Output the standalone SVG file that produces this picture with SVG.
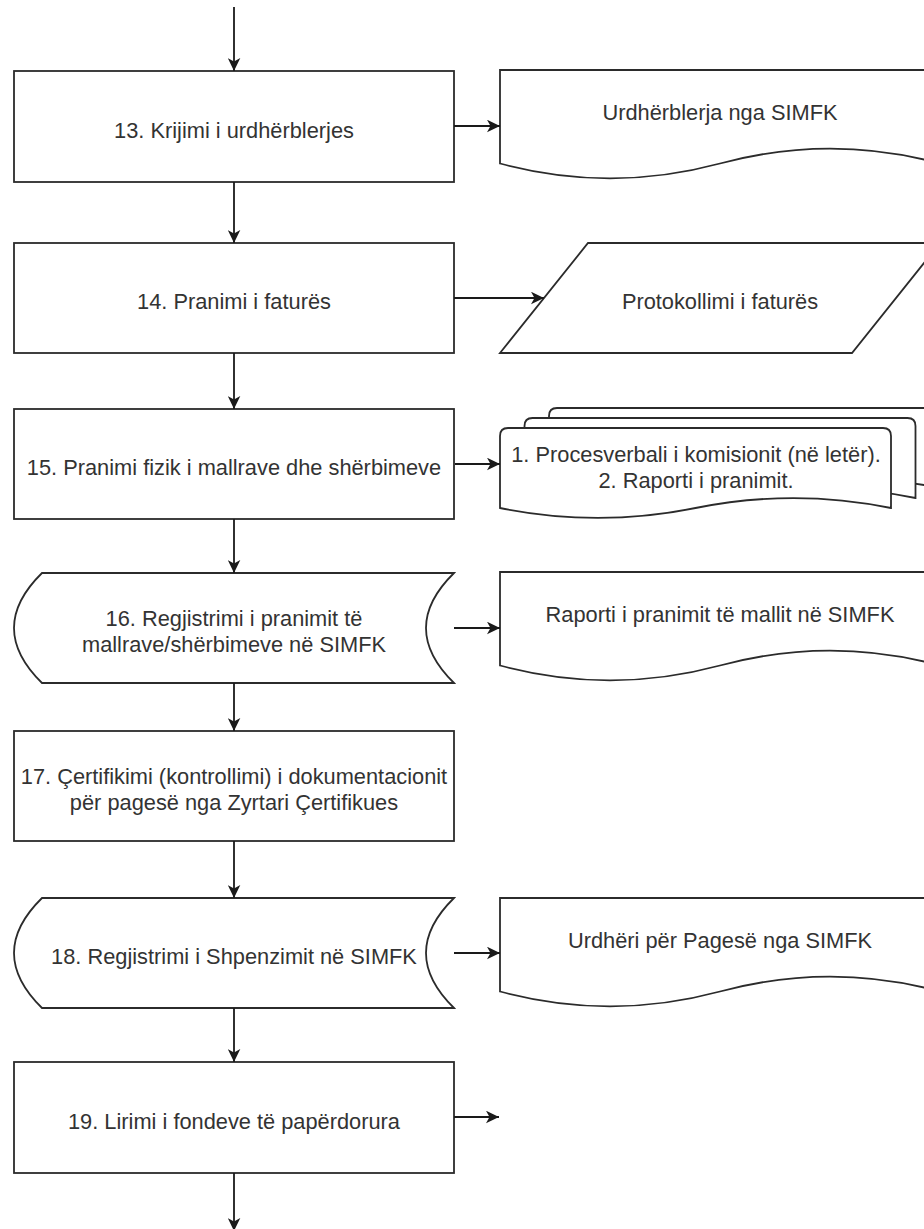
<svg xmlns="http://www.w3.org/2000/svg" width="924" height="1229" viewBox="0 0 924 1229">
  <defs>
    <style>
      .shape { fill: #ffffff; stroke: #2b2b2b; stroke-width: 1.8; stroke-linejoin: miter; }
      .edge { fill: none; stroke: #1a1a1a; stroke-width: 1.8; }
      .label { font-family: "Liberation Sans", Arial, sans-serif; font-size: 21.8px; fill: #333333; text-anchor: middle; }
    </style>
    <marker id="arrow" markerUnits="userSpaceOnUse" viewBox="0 0 13 13" refX="13" refY="6.5" markerWidth="13" markerHeight="13" orient="auto">
      <path d="M0,0.2 L13,6.5 L0,12.8 L3.5,6.5 Z" fill="#1a1a1a"/>
    </marker>
    <!-- single sheet of the stacked-documents symbol -->
    <path id="sheet" d="M500,436 Q500,428 508,428 L883,428 Q891,428 891,436 L891,508 Q793.25,488.2 695.5,508 Q597.75,527.8 500,508 Z"/>
  </defs>

  <rect x="0" y="0" width="924" height="1229" fill="#ffffff"/>

  <!-- process column -->
  <g id="step13">
    <rect class="shape" x="14" y="71" width="440" height="111"/>
    <text class="label" x="234" y="137.5">13. Krijimi i urdhërblerjes</text>
  </g>

  <g id="step14">
    <rect class="shape" x="14" y="243" width="440" height="110"/>
    <text class="label" x="234" y="309">14. Pranimi i faturës</text>
  </g>

  <g id="step15">
    <rect class="shape" x="14" y="409" width="440" height="110"/>
    <text class="label" x="234" y="475">15. Pranimi fizik i mallrave dhe shërbimeve</text>
  </g>

  <g id="step16">
    <path class="shape" d="M42,573 L454,573 Q398,628 454,683 L42,683 Q-14,628 42,573 Z"/>
    <text class="label" x="234" y="626">16. Regjistrimi i pranimit të</text>
    <text class="label" x="234" y="652">mallrave/shërbimeve në SIMFK</text>
  </g>

  <g id="step17">
    <rect class="shape" x="14" y="731" width="440" height="110"/>
    <text class="label" x="234" y="784">17. Çertifikimi (kontrollimi) i dokumentacionit</text>
    <text class="label" x="234" y="810">për pagesë nga Zyrtari Çertifikues</text>
  </g>

  <g id="step18">
    <path class="shape" d="M42,898 L454,898 Q398,953 454,1008 L42,1008 Q-14,953 42,898 Z"/>
    <text class="label" x="234" y="964">18. Regjistrimi i Shpenzimit në SIMFK</text>
  </g>

  <g id="step19">
    <rect class="shape" x="14" y="1062" width="440" height="111"/>
    <text class="label" x="234" y="1128.5">19. Lirimi i fondeve të papërdorura</text>
  </g>

  <!-- outputs -->
  <g id="doc-purchase-order">
    <path class="shape" d="M500,70 L940,70 L940,163.5 Q830,133.8 720,163.5 Q610,193.2 500,163.5 Z"/>
    <text class="label" x="720" y="119.5">Urdhërblerja nga SIMFK</text>
  </g>

  <g id="io-invoice-log">
    <polygon class="shape" points="588,243 940,243 852,353 500,353"/>
    <text class="label" x="720" y="309">Protokollimi i faturës</text>
  </g>

  <g id="docs-acceptance">
    <use href="#sheet" class="shape" transform="translate(49,-20)"/>
    <use href="#sheet" class="shape" transform="translate(24.5,-10)"/>
    <use href="#sheet" class="shape"/>
    <text class="label" x="696" y="462">1. Procesverbali i komisionit (në letër).</text>
    <text class="label" x="696" y="487.5">2. Raporti i pranimit.</text>
  </g>

  <g id="doc-receipt-report">
    <path class="shape" d="M500,572 L940,572 L940,665.5 Q830,635.8 720,665.5 Q610,695.2 500,665.5 Z"/>
    <text class="label" x="720" y="621.5">Raporti i pranimit të mallit në SIMFK</text>
  </g>

  <g id="doc-payment-order">
    <path class="shape" d="M500,898 L940,898 L940,991.5 Q830,961.8 720,991.5 Q610,1021.2 500,991.5 Z"/>
    <text class="label" x="720" y="947.5">Urdhëri për Pagesë nga SIMFK</text>
  </g>

  <!-- connectors -->
  <g id="connectors">
    <line class="edge" x1="234" y1="7" x2="234" y2="71" marker-end="url(#arrow)"/>
    <line class="edge" x1="234" y1="182" x2="234" y2="243" marker-end="url(#arrow)"/>
    <line class="edge" x1="234" y1="353" x2="234" y2="409" marker-end="url(#arrow)"/>
    <line class="edge" x1="234" y1="519" x2="234" y2="573" marker-end="url(#arrow)"/>
    <line class="edge" x1="234" y1="683" x2="234" y2="731" marker-end="url(#arrow)"/>
    <line class="edge" x1="234" y1="841" x2="234" y2="898" marker-end="url(#arrow)"/>
    <line class="edge" x1="234" y1="1008" x2="234" y2="1062" marker-end="url(#arrow)"/>
    <line class="edge" x1="234" y1="1173" x2="234" y2="1231" marker-end="url(#arrow)"/>

    <line class="edge" x1="454" y1="126" x2="500" y2="126" marker-end="url(#arrow)"/>
    <line class="edge" x1="454" y1="298" x2="544" y2="298" marker-end="url(#arrow)"/>
    <line class="edge" x1="455" y1="464" x2="500" y2="464" marker-end="url(#arrow)"/>
    <line class="edge" x1="454" y1="628" x2="500" y2="628" marker-end="url(#arrow)"/>
    <line class="edge" x1="454" y1="953" x2="500" y2="953" marker-end="url(#arrow)"/>
    <line class="edge" x1="454" y1="1117" x2="499" y2="1117" marker-end="url(#arrow)"/>
  </g>
</svg>
